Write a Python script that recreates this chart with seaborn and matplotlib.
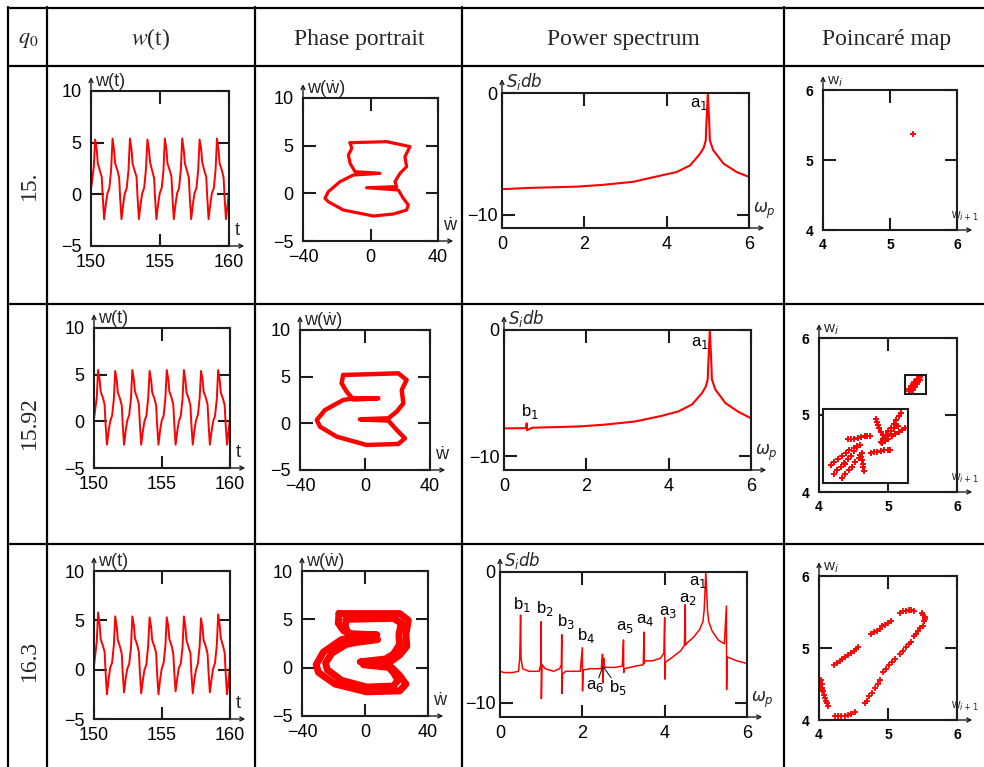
import matplotlib
matplotlib.use('Agg')
import matplotlib.pyplot as plt
import seaborn as sns
from matplotlib.lines import Line2D
from matplotlib.patches import Rectangle

# ---------------- data ----------------
row_q0 = ['15.', '15.92', '16.3']
col_headers = ['Phase portrait', 'Power spectrum', 'Poincaré map']

time_t = [150.00, 150.20,
          150.30, 150.42, 150.49, 150.66, 150.78, 150.85, 150.95, 151.07, 151.19, 151.33, 151.46,
          151.56, 151.68, 151.75, 151.92, 152.04, 152.11, 152.21, 152.33, 152.45, 152.59, 152.72,
          152.82, 152.94, 153.01, 153.18, 153.30, 153.37, 153.47, 153.59, 153.71, 153.85, 153.98,
          154.09, 154.21, 154.28, 154.45, 154.57, 154.64, 154.74, 154.86, 154.98, 155.12, 155.25,
          155.35, 155.47, 155.54, 155.71, 155.83, 155.90, 156.00, 156.12, 156.24, 156.38, 156.51,
          156.61, 156.73, 156.80, 156.97, 157.09, 157.16, 157.26, 157.38, 157.50, 157.64, 157.77,
          157.87, 157.99, 158.06, 158.23, 158.35, 158.42, 158.52, 158.64, 158.76, 158.90, 159.03,
          159.13, 159.25, 159.32, 159.49, 159.61, 159.68, 159.78, 159.90, 160.00]

w_t_15 = [0.5, 2.6,
          5.3, 4.3, 3.0, 2.2, 1.7, -0.2, -2.4, -1.0, 0.1, 0.6, 2.4,
          5.4, 4.2, 3.0, 2.3, 1.6, -0.3, -2.4, -1.0, 0.1, 0.6, 2.4,
          5.4, 4.3, 3.0, 2.2, 1.7, -0.2, -2.4, -1.0, 0.1, 0.6, 2.4,
          5.3, 4.2, 3.1, 2.2, 1.6, -0.3, -2.4, -1.0, 0.1, 0.6, 2.3,
          5.4, 4.3, 3.0, 2.3, 1.7, -0.2, -2.4, -1.0, 0.1, 0.6, 2.4,
          5.4, 4.2, 3.0, 2.2, 1.6, -0.3, -2.4, -1.0, 0.1, 0.6, 2.4,
          5.3, 4.3, 3.1, 2.2, 1.7, -0.2, -2.4, -1.0, 0.1, 0.6, 2.4,
          5.4, 4.2, 3.0, 2.3, 1.6, -0.3, -2.4, -1.0, 0.4]

w_t_1592 = [0.3, 2.5,
            5.5, 4.4, 3.2, 2.5, 1.8, -0.3, -2.5, -1.1, 0.0, 0.6, 2.4,
            5.4, 4.3, 3.1, 2.4, 1.7, -0.3, -2.5, -1.0, 0.1, 0.7, 2.5,
            5.5, 4.4, 3.2, 2.5, 1.8, -0.2, -2.5, -1.1, 0.0, 0.6, 2.4,
            5.4, 4.3, 3.1, 2.4, 1.7, -0.3, -2.5, -1.0, 0.1, 0.6, 2.5,
            5.5, 4.4, 3.2, 2.5, 1.8, -0.2, -2.5, -1.1, 0.0, 0.6, 2.4,
            5.5, 4.3, 3.1, 2.4, 1.7, -0.3, -2.5, -1.0, 0.1, 0.7, 2.5,
            5.4, 4.4, 3.2, 2.5, 1.8, -0.2, -2.5, -1.1, 0.0, 0.6, 2.4,
            5.5, 4.3, 3.1, 2.4, 1.7, -0.3, -2.5, -1.0, 0.3]

w_t_163 = [0.4, 2.8,
           5.8, 4.5, 3.1, 2.4, 1.8, -0.2, -2.5, -1.0, 0.2, 0.7, 2.5,
           5.4, 4.3, 3.0, 2.3, 1.6, -0.3, -2.3, -0.9, 0.1, 0.6, 2.3,
           5.4, 4.4, 3.2, 2.5, 1.8, -0.2, -2.4, -1.1, 0.0, 0.5, 2.4,
           5.3, 4.2, 3.0, 2.3, 1.7, -0.4, -2.5, -1.0, 0.1, 0.7, 2.4,
           5.3, 4.3, 3.1, 2.4, 1.6, -0.2, -2.2, -0.9, 0.2, 0.6, 2.3,
           5.4, 4.2, 3.0, 2.2, 1.7, -0.3, -2.4, -1.0, 0.0, 0.6, 2.4,
           5.2, 4.1, 3.0, 2.3, 1.6, -0.2, -2.3, -1.0, 0.1, 0.7, 2.5,
           5.6, 4.4, 3.2, 2.4, 1.7, -0.3, -2.5, -1.1, 0.4]

# phase portraits (w-dot, w)
ph_15_x = [-12.1, 9.6, 23.4, 20.4, 21.4, 17.5, 14.5, 15.5, -2.3, 16.5, 19.4, 22.4, 21.4, 13.5,
           1.7, -16.1, -25.0, -27.0, -25.0, -18.1, -10.2, 5.6, -9.2, -12.1, -13.1, -11.1, -12.1]
ph_15_y = [5.31, 5.42, 4.9, 3.84, 2.8, 2.1, 1.22, 0.7, 0.59, 0.35, -0.52, -1.22, -1.75, -2.17,
           -2.38, -1.75, -0.88, -0.52, 0.17, 1.22, 1.92, 2.1, 2.27, 3.15, 4.02, 4.72, 5.31]

ph_1592_x = [-13.4, 20.5, 25.6, 22.6, 23.6, 19.5, 14.4, -3.1, 14.4, 19.5, 24.6, 20.5, 1.0,
             -17.4, -27.7, -29.7, -24.6, -13.4, -7.2, 8.2, -7.2, -11.3, -14.4, -13.4]
ph_1592_y = [5.18, 5.36, 4.64, 3.57, 2.14, 1.25, 0.54, 0.43, 0.29, -0.71, -1.61, -2.21, -2.32,
             -1.43, -0.36, 0.36, 1.43, 2.5, 2.68, 2.68, 2.55, 3.39, 4.29, 5.18]

ph_163_outer_x = [-16.5, 22.0, 27.5, 26.0, 26.5, 22.0, 16.0, -1.0, 17.0, 22.0, 26.0, 22.0, 1.0,
                  -19.0, -29.5, -31.0, -26.5, -15.0, -8.0, 7.5, -8.0, -13.5, -17.0, -16.5]
ph_163_outer_y = [5.6, 5.6, 4.9, 3.5, 2.2, 1.3, 0.6, 0.3, 0.0, -0.8, -1.7, -2.4, -2.5,
                  -1.7, -0.5, 0.3, 1.6, 2.9, 3.2, 3.4, 3.5, 3.8, 4.6, 5.6]
ph_163_inner_x = [-12.0, 18.0, 23.0, 21.5, 22.0, 18.0, 13.0, -3.0, 13.0, 18.0, 21.0, 18.0, 1.0,
                  -15.0, -24.0, -25.0, -21.0, -12.0, -6.0, 8.0, -6.0, -10.0, -12.5, -12.0]
ph_163_inner_y = [5.0, 5.1, 4.6, 3.4, 2.4, 1.4, 0.9, 0.6, 0.4, -0.5, -1.3, -1.9, -2.0,
                  -1.3, -0.2, 0.5, 1.5, 2.4, 2.6, 2.9, 3.0, 3.4, 4.2, 5.0]

# power spectra
omega_15 = [0.0, 0.0, 0.05, 0.68, 1.81, 2.46, 3.19, 3.84, 4.24, 4.57, 4.81, 4.90, 4.95, 4.96,
            5.00, 5.04, 5.05, 5.10, 5.13, 5.38, 5.70, 6.00]
S_15 = [0.0, -7.9, -7.9, -7.8, -7.7, -7.55, -7.3, -6.8, -6.5, -5.95, -5.0, -4.5, -3.9, -2.9,
        0.0, -2.9, -3.9, -4.4, -4.7, -5.8, -6.5, -6.9]

omega_1592 = [0.0, 0.0, 0.05, 0.54, 0.55, 0.56, 0.68, 1.81, 2.46, 3.19, 3.84, 4.24, 4.57, 4.81,
              4.90, 4.95, 4.96, 5.00, 5.04, 5.05, 5.10, 5.13, 5.38, 5.70, 6.00]
S_1592 = [0.0, -7.8, -7.8, -7.78, -7.4, -7.95, -7.75, -7.65, -7.5, -7.25, -6.8, -6.45, -5.9, -5.0,
          -4.5, -3.9, -2.9, 0.0, -2.9, -3.9, -4.4, -4.7, -5.8, -6.5, -7.0]

omega_163 = [0.0, 0.0, 0.10, 0.30, 0.45, 0.48, 0.50, 0.51, 0.55, 0.70, 0.95, 0.99, 1.00, 1.005,
             1.02, 1.10, 1.30, 1.45, 1.49, 1.50, 1.505, 1.52, 1.60, 1.95, 2.00, 2.005, 2.02, 2.20,
             2.46, 2.49, 2.50, 2.52, 2.54, 2.80, 2.97, 3.00, 3.005, 3.02, 3.30, 3.48, 3.50, 3.505,
             3.52, 3.70, 3.90, 3.98, 4.00, 4.005, 4.02, 4.20, 4.40, 4.48, 4.50, 4.505, 4.52, 4.70,
             4.85, 4.93, 4.96, 5.00, 5.04, 5.07, 5.15, 5.30, 5.45, 5.50, 5.505, 5.52, 5.60, 5.75,
             6.00]
S_163 = [0.0, -7.6, -7.7, -7.7, -7.6, -6.6, -3.3, -6.6, -7.4, -7.6, -7.6, -7.1, -3.8, -9.7,
         -7.1, -7.4, -7.6, -7.4, -7.1, -4.8, -9.3, -7.8, -7.6, -7.6, -5.8, -9.1, -7.5, -7.4,
         -7.4, -6.3, -8.5, -6.6, -7.3, -7.3, -7.2, -5.2, -7.7, -7.4, -7.2, -7.1, -4.6, -7.0,
         -6.8, -6.8, -6.6, -6.2, -3.5, -8.2, -6.9, -6.5, -6.0, -5.6, -2.5, -5.6, -5.5, -5.0,
         -4.4, -3.8, -2.9, 0.0, -2.9, -3.8, -4.5, -5.2, -5.5, -2.6, -9.0, -6.5, -6.6, -6.8,
         -7.0]

peak_labels_15 = ['a$_1$']
peak_x_15 = [4.78]
peak_y_15 = [-0.25]
peak_labels_1592 = ['a$_1$', 'b$_1$']
peak_x_1592 = [4.76, 0.63]
peak_y_1592 = [-0.4, -7.2]
peak_labels_163 = ['b$_1$', 'b$_2$', 'b$_3$', 'b$_4$', 'a$_5$', 'a$_4$', 'a$_3$', 'a$_2$', 'a$_1$']
peak_x_163 = [0.52, 1.08, 1.60, 2.08, 3.04, 3.52, 4.08, 4.56, 4.80]
peak_y_163 = [-3.2, -3.5, -4.55, -5.6, -4.8, -4.3, -3.7, -2.65, -1.4]
low_labels_163 = ['a$_6$', 'b$_5$']
low_x_163 = [2.30, 2.86]
low_y_163 = [-8.1, -8.1]

# Poincare maps (w_i+1, w_i)
pc_15_x = [5.35]
pc_15_y = [5.37]

pc_1592_x = [5.31, 5.33, 5.35, 5.37, 5.39, 5.41, 5.43, 5.45, 5.47, 5.33, 5.36, 5.39, 5.42, 5.44,
             5.46, 5.30, 5.34, 5.38, 5.42]
pc_1592_y = [5.31, 5.34, 5.36, 5.39, 5.41, 5.43, 5.45, 5.47, 5.49, 5.31, 5.33, 5.37, 5.40, 5.44,
             5.46, 5.34, 5.38, 5.43, 5.47]
zoom_box_x = [5.25, 5.55]
zoom_box_y = [5.27, 5.52]
inset_u = [0.92, 0.89, 0.86, 0.83, 0.80, 0.77, 0.74, 0.71, 0.68,
           0.62, 0.63, 0.65, 0.66, 0.68, 0.70, 0.72, 0.73,
           0.97, 0.93, 0.89, 0.85, 0.81, 0.77, 0.73, 0.69,
           0.88, 0.84, 0.80, 0.76,
           0.56, 0.60, 0.64, 0.68, 0.72, 0.76, 0.79,
           0.29, 0.33, 0.37, 0.41, 0.45, 0.49, 0.52, 0.55,
           0.09, 0.13, 0.18, 0.22, 0.27, 0.31, 0.36, 0.40, 0.44,
           0.13, 0.17, 0.21, 0.25, 0.29, 0.33, 0.37, 0.40,
           0.22, 0.26, 0.30, 0.34, 0.38, 0.42, 0.46,
           0.48, 0.47, 0.47, 0.46, 0.45, 0.44,
           0.17, 0.21, 0.26]
inset_v = [0.95, 0.90, 0.85, 0.80, 0.75, 0.70, 0.65, 0.60, 0.56,
           0.86, 0.82, 0.78, 0.74, 0.69, 0.65, 0.61, 0.58,
           0.74, 0.72, 0.69, 0.66, 0.63, 0.60, 0.57, 0.54,
           0.77, 0.74, 0.70, 0.66,
           0.41, 0.42, 0.42, 0.43, 0.44, 0.44, 0.45,
           0.59, 0.60, 0.60, 0.61, 0.62, 0.63, 0.63, 0.64,
           0.25, 0.29, 0.33, 0.37, 0.41, 0.44, 0.47, 0.50, 0.52,
           0.12, 0.17, 0.22, 0.27, 0.32, 0.37, 0.43, 0.49,
           0.07, 0.12, 0.17, 0.22, 0.28, 0.34, 0.41,
           0.16, 0.21, 0.26, 0.31, 0.35, 0.38,
           0.18, 0.22, 0.26]

pc_163_x = [4.22, 4.26, 4.30, 4.34, 4.38, 4.42, 4.46, 4.50, 4.54, 4.57,
            4.76, 4.80, 4.84, 4.88, 4.92, 4.96, 5.00, 5.04,
            5.18, 5.22, 5.26, 5.30, 5.34, 5.37,
            5.49, 5.51, 5.53, 5.53, 5.52,
            5.50, 5.47, 5.44, 5.41, 5.38,
            5.34, 5.30, 5.26, 5.22, 5.17,
            5.10, 5.06, 5.01, 4.97, 4.93,
            4.88, 4.85, 4.81, 4.77, 4.73, 4.69, 4.66,
            4.52, 4.47, 4.42, 4.37, 4.32, 4.27, 4.23,
            4.03, 4.04, 4.05, 4.06, 4.07, 4.08, 4.10, 4.12, 4.13, 4.02, 4.04]
pc_163_y = [4.76, 4.79, 4.82, 4.85, 4.87, 4.90, 4.93, 4.96, 4.99, 5.02,
            5.19, 5.22, 5.24, 5.27, 5.30, 5.32, 5.35, 5.38,
            5.49, 5.51, 5.52, 5.53, 5.53, 5.52,
            5.49, 5.46, 5.43, 5.40, 5.37,
            5.31, 5.28, 5.24, 5.20, 5.17,
            5.09, 5.05, 5.01, 4.96, 4.92,
            4.85, 4.80, 4.76, 4.71, 4.67,
            4.55, 4.50, 4.44, 4.38, 4.33, 4.27, 4.23,
            4.11, 4.09, 4.07, 4.06, 4.05, 4.05, 4.05,
            4.55, 4.50, 4.45, 4.40, 4.35, 4.31, 4.27, 4.23, 4.20, 4.48, 4.42]

# ---------------- style ----------------
sns.set_theme(style='white')
plt.rcParams['font.family'] = ['Liberation Sans', 'DejaVu Sans']
RED = '#ff0000'
INK = '#1c1c1c'

W, H = 984, 767
fig = plt.figure(figsize=(W / 100, H / 100), dpi=100)
fig.patch.set_facecolor('white')


def rect(l, r, t, b):
    return [l / W, 1 - b / H, (r - l) / W, (b - t) / H]


def fmt(v):
    return str(v).replace('-', '\u2212')


def mathcad(ax, xlim, ylim, xt, yt, xlab, ylab, fs=13, xpad=6, ypad=7, labfs=13,
            xlab_off=(4, 5), tlen=9, xlabfs=None):
    ax.set_facecolor('white')
    ax.set_xlim(*xlim)
    ax.set_ylim(*ylim)
    ax.set_xticks(xt)
    ax.set_xticklabels([fmt(v) for v in xt])
    ax.set_yticks(yt)
    ax.set_yticklabels([fmt(v) for v in yt])
    ax.tick_params(direction='in', length=tlen, width=1.5, color=INK, top=True, right=True,
                   left=True, bottom=True, labelsize=fs, labelcolor='black')
    ax.tick_params(axis='x', pad=xpad)
    ax.tick_params(axis='y', pad=ypad)
    for s in ax.spines.values():
        s.set_visible(True)
        s.set_color(INK)
        s.set_linewidth(1.5)
    ax.set_xlabel('')
    ax.set_ylabel('')
    arr = dict(arrowstyle='<-', lw=1.0, color=INK, shrinkA=0, shrinkB=0, mutation_scale=7)
    ax.annotate('', xy=(0, 1), xycoords='axes fraction', xytext=(0, 10),
                textcoords='offset points', arrowprops=arr, annotation_clip=False)
    ax.annotate('', xy=(1, 0), xycoords='axes fraction', xytext=(11, 0),
                textcoords='offset points', arrowprops=arr, annotation_clip=False)
    ax.annotate(ylab, xy=(0, 1), xycoords='axes fraction', xytext=(3, 1),
                textcoords='offset points', ha='left', va='bottom', fontsize=labfs,
                annotation_clip=False)
    ax.annotate(xlab, xy=(1, 0), xycoords='axes fraction', xytext=xlab_off,
                textcoords='offset points', ha='left', va='bottom',
                fontsize=xlabfs if xlabfs else labfs, annotation_clip=False)


# ---------------- table ----------------
for x in [8, 47, 255, 462, 784]:
    fig.add_artist(Line2D([x / W, x / W], [1 - 7 / H, 0], lw=1.6, color='black',
                          transform=fig.transFigure))
for y in [8, 66, 304, 544]:
    fig.add_artist(Line2D([8 / W, 1], [1 - y / H, 1 - y / H], lw=1.6, color='black',
                          transform=fig.transFigure))

serif = ['Liberation Serif', 'DejaVu Serif']
fig.text(28 / W, 1 - 40 / H, r'$q_0$', ha='center', va='center', fontsize=16,
         math_fontfamily='stix', family=serif)
fig.text(151 / W, 1 - 39 / H, r'$w$(t)', ha='center', va='center', fontsize=17,
         math_fontfamily='stix', family=serif)
for cx, txt in zip([359, 623, 887], col_headers):
    fig.text(cx / W, 1 - 39 / H, txt, ha='center', va='center', fontsize=17, family=serif)
for cy, txt in zip([185, 423, 660], row_q0):
    fig.text(29 / W, 1 - cy / H, txt, ha='center', va='center', fontsize=17, family=serif,
             rotation=90)

# ---------------- panels ----------------
wt_boxes = [(91, 229, 91, 246), (94, 230, 328, 468), (94, 230, 571, 719)]
ph_boxes = [(303, 438, 98, 241), (300, 430, 330, 470), (302, 428, 571, 716)]
sp_boxes = [(502, 749, 93, 228), (504, 751, 330, 470), (500, 747, 572, 717)]
pc_boxes = [(823, 957, 90, 230), (819, 957, 338, 492), (819, 957, 576, 720)]

# w(t)
for box, wv in zip(wt_boxes, [w_t_15, w_t_1592, w_t_163]):
    ax = fig.add_axes(rect(*box))
    sns.lineplot(x=time_t, y=wv, ax=ax, color=RED, lw=1.4, sort=False, estimator=None)
    mathcad(ax, (150, 160), (-5, 10), [150, 155, 160], [-5, 0, 5, 10], 't', 'w(t)')

# phase portraits
ph_data = [[(ph_15_x, ph_15_y, 2.3)],
           [(ph_1592_x, ph_1592_y, 3.2)],
           [(ph_163_outer_x, ph_163_outer_y, 5.0), (ph_163_inner_x, ph_163_inner_y, 5.0)]]
for box, loops in zip(ph_boxes, ph_data):
    ax = fig.add_axes(rect(*box))
    for xs, ys, lw in loops:
        sns.lineplot(x=xs, y=ys, ax=ax, color=RED, lw=lw, sort=False, estimator=None)
    mathcad(ax, (-40, 40), (-5, 10), [-40, 0, 40], [-5, 0, 5, 10], '\u1e87', 'w(\u1e87)')

# spectra
sp_data = [(omega_15, S_15, 1.5), (omega_1592, S_1592, 1.5), (omega_163, S_163, 1.1)]
sp_labels = [(peak_labels_15, peak_x_15, peak_y_15, 'top'),
             (peak_labels_1592, peak_x_1592, peak_y_1592, None),
             (peak_labels_163, peak_x_163, peak_y_163, 'bottom')]
for i, (box, (om, S, lw)) in enumerate(zip(sp_boxes, sp_data)):
    ax = fig.add_axes(rect(*box))
    sns.lineplot(x=om, y=S, ax=ax, color=RED, lw=lw, sort=False, estimator=None)
    mathcad(ax, (0, 6), (-11.1, 0), [0, 2, 4, 6], [-10, 0], r'$\omega_p$', r'$S_i db$',
            xpad=6, ypad=3, xlab_off=(3, 5), labfs=12)
    labs, lx, ly, va = sp_labels[i]
    for j, (t, x, y) in enumerate(zip(labs, lx, ly)):
        v = va if va else ('top' if j == 0 else 'bottom')
        ax.text(x, y, t, ha='center', va=v, fontsize=12, color='black')
    if i == 2:
        for t, x, y in zip(low_labels_163, low_x_163, low_y_163):
            ax.text(x, y, t, ha='center', va='top', fontsize=12, color='black')
        ax.plot([2.40, 2.49], [-8.1, -7.3], color=INK, lw=0.8)
        ax.plot([2.52, 2.70], [-7.3, -8.1], color=INK, lw=0.8)

# Poincare maps
pc_data = [(pc_15_x, pc_15_y, 14), (pc_1592_x, pc_1592_y, 22), (pc_163_x, pc_163_y, 22)]
pc_axes = []
for box, (xs, ys, s) in zip(pc_boxes, pc_data):
    ax = fig.add_axes(rect(*box))
    sns.scatterplot(x=xs, y=ys, ax=ax, color=RED, marker='+', s=s, linewidth=1.3, legend=False)
    mathcad(ax, (4, 6), (4, 6), [4, 5, 6], [4, 5, 6], r'w$_{i+1}$', r'w$_i$',
            fs=10, xpad=6, ypad=7, xlab_off=(-4.5, 5), labfs=11, xlabfs=8.5)
    for lab in ax.get_xticklabels() + ax.get_yticklabels():
        lab.set_fontweight('bold')
    pc_axes.append(ax)

ax = pc_axes[1]
ax.add_patch(Rectangle((zoom_box_x[0], zoom_box_y[0]), zoom_box_x[1] - zoom_box_x[0],
                       zoom_box_y[1] - zoom_box_y[0], fill=False, ec=INK, lw=1.5, zorder=5))
ins = fig.add_axes(rect(823, 908, 409, 483))
sns.scatterplot(x=inset_u, y=inset_v, ax=ins, color=RED, marker='+', s=22, linewidth=1.4,
                legend=False)
ins.set_xlim(0, 1)
ins.set_ylim(0, 1)
ins.set_xticks([])
ins.set_yticks([])
ins.set_facecolor('white')
ins.set_xlabel('')
ins.set_ylabel('')
for s in ins.spines.values():
    s.set_visible(True)
    s.set_color(INK)
    s.set_linewidth(1.5)

fig.savefig('out.png', dpi=100)
